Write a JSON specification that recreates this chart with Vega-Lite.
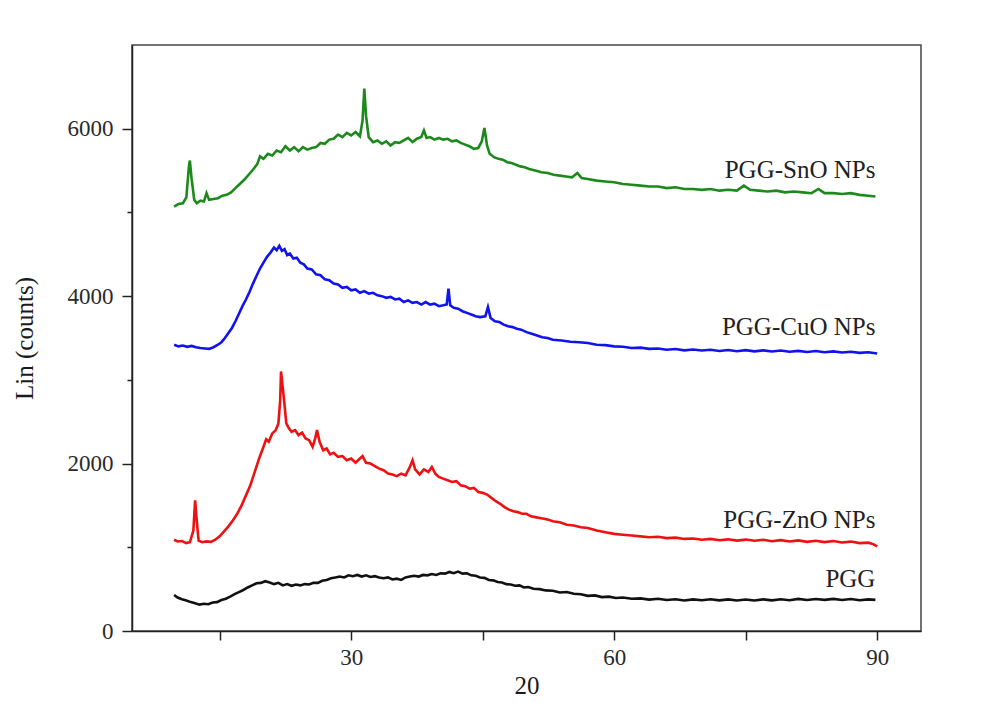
{
  "$schema": "https://vega.github.io/schema/vega-lite/v6.json",
  "width": 789,
  "height": 586,
  "autosize": {"type": "none"},
  "padding": {"left": 132, "top": 45, "right": 77, "bottom": 77},
  "background": "white",
  "config": {
    "font": "Liberation Serif",
    "view": {"stroke": "#444", "strokeWidth": 1.5},
    "axis": {
      "labelFont": "Liberation Serif",
      "titleFont": "Liberation Serif",
      "labelFontSize": 23,
      "titleFontSize": 25,
      "labelColor": "#2a2a2a",
      "titleColor": "#1a1a1a",
      "titleFontWeight": "normal",
      "domainColor": "#222",
      "domainWidth": 1.5,
      "tickColor": "#222",
      "tickWidth": 1.5,
      "grid": false
    }
  },
  "datasets": {
    "xrd": [
      {"s":"PGG","t":9.8,"v":430},{"s":"PGG","t":10.2,"v":400},{"s":"PGG","t":10.7,"v":380},{"s":"PGG","t":11.2,"v":365},{"s":"PGG","t":11.7,"v":345},{"s":"PGG","t":12.2,"v":330},{"s":"PGG","t":12.7,"v":315},{"s":"PGG","t":13.2,"v":325},{"s":"PGG","t":13.7,"v":320},{"s":"PGG","t":14.2,"v":340},{"s":"PGG","t":14.7,"v":345},{"s":"PGG","t":15.2,"v":370},{"s":"PGG","t":15.7,"v":385},{"s":"PGG","t":16.2,"v":410},{"s":"PGG","t":16.7,"v":440},{"s":"PGG","t":17.2,"v":465},{"s":"PGG","t":17.7,"v":490},{"s":"PGG","t":18.2,"v":520},{"s":"PGG","t":18.7,"v":545},{"s":"PGG","t":19.2,"v":570},{"s":"PGG","t":19.7,"v":575},{"s":"PGG","t":20.2,"v":595},{"s":"PGG","t":20.7,"v":580},{"s":"PGG","t":21.2,"v":560},{"s":"PGG","t":21.7,"v":575},{"s":"PGG","t":22.2,"v":545},{"s":"PGG","t":22.7,"v":560},{"s":"PGG","t":23.2,"v":540},{"s":"PGG","t":23.7,"v":555},{"s":"PGG","t":24.2,"v":545},{"s":"PGG","t":24.7,"v":560},{"s":"PGG","t":25.2,"v":555},{"s":"PGG","t":25.7,"v":575},{"s":"PGG","t":26.2,"v":575},{"s":"PGG","t":26.7,"v":600},{"s":"PGG","t":27.2,"v":610},{"s":"PGG","t":27.7,"v":630},{"s":"PGG","t":28.2,"v":640},{"s":"PGG","t":28.7,"v":650},{"s":"PGG","t":29.2,"v":640},{"s":"PGG","t":29.7,"v":665},{"s":"PGG","t":30.2,"v":655},{"s":"PGG","t":30.7,"v":670},{"s":"PGG","t":31.2,"v":650},{"s":"PGG","t":31.7,"v":665},{"s":"PGG","t":32.2,"v":645},{"s":"PGG","t":32.7,"v":655},{"s":"PGG","t":33.2,"v":640},{"s":"PGG","t":33.7,"v":630},{"s":"PGG","t":34.2,"v":640},{"s":"PGG","t":34.7,"v":615},{"s":"PGG","t":35.2,"v":625},{"s":"PGG","t":35.7,"v":610},{"s":"PGG","t":36.2,"v":640},{"s":"PGG","t":36.7,"v":650},{"s":"PGG","t":37.2,"v":660},{"s":"PGG","t":37.7,"v":650},{"s":"PGG","t":38.2,"v":670},{"s":"PGG","t":38.7,"v":665},{"s":"PGG","t":39.2,"v":680},{"s":"PGG","t":39.7,"v":670},{"s":"PGG","t":40.2,"v":690},{"s":"PGG","t":40.7,"v":685},{"s":"PGG","t":41.2,"v":705},{"s":"PGG","t":41.7,"v":690},{"s":"PGG","t":42.2,"v":710},{"s":"PGG","t":42.7,"v":685},{"s":"PGG","t":43.2,"v":690},{"s":"PGG","t":43.7,"v":665},{"s":"PGG","t":44.2,"v":660},{"s":"PGG","t":44.7,"v":640},{"s":"PGG","t":45.2,"v":635},{"s":"PGG","t":45.7,"v":610},{"s":"PGG","t":46.2,"v":605},{"s":"PGG","t":46.7,"v":585},{"s":"PGG","t":47.2,"v":580},{"s":"PGG","t":47.7,"v":560},{"s":"PGG","t":48.2,"v":555},{"s":"PGG","t":48.7,"v":540},{"s":"PGG","t":49.2,"v":545},{"s":"PGG","t":49.7,"v":520},{"s":"PGG","t":50.2,"v":525},{"s":"PGG","t":50.8,"v":505},{"s":"PGG","t":51.5,"v":500},{"s":"PGG","t":52.2,"v":485},{"s":"PGG","t":53,"v":480},{"s":"PGG","t":53.8,"v":460},{"s":"PGG","t":54.6,"v":465},{"s":"PGG","t":55.4,"v":445},{"s":"PGG","t":56.2,"v":440},{"s":"PGG","t":57,"v":420},{"s":"PGG","t":57.8,"v":425},{"s":"PGG","t":58.6,"v":405},{"s":"PGG","t":59.4,"v":410},{"s":"PGG","t":60.2,"v":395},{"s":"PGG","t":61,"v":400},{"s":"PGG","t":62,"v":385},{"s":"PGG","t":63,"v":390},{"s":"PGG","t":64,"v":375},{"s":"PGG","t":65,"v":385},{"s":"PGG","t":66,"v":370},{"s":"PGG","t":67,"v":380},{"s":"PGG","t":68,"v":365},{"s":"PGG","t":69,"v":378},{"s":"PGG","t":70,"v":368},{"s":"PGG","t":71,"v":380},{"s":"PGG","t":72,"v":366},{"s":"PGG","t":73,"v":378},{"s":"PGG","t":74,"v":365},{"s":"PGG","t":75,"v":376},{"s":"PGG","t":76,"v":364},{"s":"PGG","t":77,"v":378},{"s":"PGG","t":78,"v":366},{"s":"PGG","t":79,"v":380},{"s":"PGG","t":80,"v":368},{"s":"PGG","t":81,"v":384},{"s":"PGG","t":82,"v":370},{"s":"PGG","t":83,"v":382},{"s":"PGG","t":84,"v":372},{"s":"PGG","t":85,"v":384},{"s":"PGG","t":86,"v":370},{"s":"PGG","t":87,"v":382},{"s":"PGG","t":88,"v":368},{"s":"PGG","t":89,"v":378},{"s":"PGG","t":89.8,"v":372},

      {"s":"PGG-ZnO NPs","t":9.8,"v":1090},{"s":"PGG-ZnO NPs","t":10.2,"v":1070},{"s":"PGG-ZnO NPs","t":10.7,"v":1075},{"s":"PGG-ZnO NPs","t":11.2,"v":1050},{"s":"PGG-ZnO NPs","t":11.6,"v":1060},{"s":"PGG-ZnO NPs","t":12.0,"v":1200},{"s":"PGG-ZnO NPs","t":12.2,"v":1560},{"s":"PGG-ZnO NPs","t":12.4,"v":1300},{"s":"PGG-ZnO NPs","t":12.6,"v":1080},{"s":"PGG-ZnO NPs","t":13.0,"v":1060},{"s":"PGG-ZnO NPs","t":13.5,"v":1070},{"s":"PGG-ZnO NPs","t":14.0,"v":1065},{"s":"PGG-ZnO NPs","t":14.5,"v":1090},{"s":"PGG-ZnO NPs","t":15.0,"v":1130},{"s":"PGG-ZnO NPs","t":15.5,"v":1190},{"s":"PGG-ZnO NPs","t":16.0,"v":1250},{"s":"PGG-ZnO NPs","t":16.5,"v":1320},{"s":"PGG-ZnO NPs","t":17.0,"v":1400},{"s":"PGG-ZnO NPs","t":17.5,"v":1500},{"s":"PGG-ZnO NPs","t":18.0,"v":1620},{"s":"PGG-ZnO NPs","t":18.5,"v":1740},{"s":"PGG-ZnO NPs","t":19.0,"v":1900},{"s":"PGG-ZnO NPs","t":19.5,"v":2060},{"s":"PGG-ZnO NPs","t":20.0,"v":2200},{"s":"PGG-ZnO NPs","t":20.3,"v":2290},{"s":"PGG-ZnO NPs","t":20.6,"v":2260},{"s":"PGG-ZnO NPs","t":21.0,"v":2360},{"s":"PGG-ZnO NPs","t":21.4,"v":2400},{"s":"PGG-ZnO NPs","t":21.7,"v":2480},{"s":"PGG-ZnO NPs","t":21.9,"v":2750},{"s":"PGG-ZnO NPs","t":22.0,"v":3100},{"s":"PGG-ZnO NPs","t":22.2,"v":2900},{"s":"PGG-ZnO NPs","t":22.4,"v":2700},{"s":"PGG-ZnO NPs","t":22.6,"v":2480},{"s":"PGG-ZnO NPs","t":22.9,"v":2420},{"s":"PGG-ZnO NPs","t":23.2,"v":2380},{"s":"PGG-ZnO NPs","t":23.6,"v":2400},{"s":"PGG-ZnO NPs","t":24.0,"v":2340},{"s":"PGG-ZnO NPs","t":24.4,"v":2370},{"s":"PGG-ZnO NPs","t":24.8,"v":2300},{"s":"PGG-ZnO NPs","t":25.2,"v":2280},{"s":"PGG-ZnO NPs","t":25.6,"v":2200},{"s":"PGG-ZnO NPs","t":25.9,"v":2300},{"s":"PGG-ZnO NPs","t":26.1,"v":2400},{"s":"PGG-ZnO NPs","t":26.4,"v":2260},{"s":"PGG-ZnO NPs","t":26.8,"v":2160},{"s":"PGG-ZnO NPs","t":27.2,"v":2180},{"s":"PGG-ZnO NPs","t":27.6,"v":2110},{"s":"PGG-ZnO NPs","t":28.0,"v":2130},{"s":"PGG-ZnO NPs","t":28.5,"v":2080},{"s":"PGG-ZnO NPs","t":29.0,"v":2090},{"s":"PGG-ZnO NPs","t":29.5,"v":2040},{"s":"PGG-ZnO NPs","t":30.0,"v":2060},{"s":"PGG-ZnO NPs","t":30.5,"v":2010},{"s":"PGG-ZnO NPs","t":31.0,"v":2060},{"s":"PGG-ZnO NPs","t":31.3,"v":2090},{"s":"PGG-ZnO NPs","t":31.7,"v":2010},{"s":"PGG-ZnO NPs","t":32.2,"v":2000},{"s":"PGG-ZnO NPs","t":32.7,"v":1970},{"s":"PGG-ZnO NPs","t":33.2,"v":1940},{"s":"PGG-ZnO NPs","t":33.7,"v":1920},{"s":"PGG-ZnO NPs","t":34.2,"v":1880},{"s":"PGG-ZnO NPs","t":34.7,"v":1870},{"s":"PGG-ZnO NPs","t":35.2,"v":1850},{"s":"PGG-ZnO NPs","t":35.7,"v":1880},{"s":"PGG-ZnO NPs","t":36.2,"v":1860},{"s":"PGG-ZnO NPs","t":36.7,"v":1960},{"s":"PGG-ZnO NPs","t":37.0,"v":2040},{"s":"PGG-ZnO NPs","t":37.3,"v":1930},{"s":"PGG-ZnO NPs","t":37.8,"v":1870},{"s":"PGG-ZnO NPs","t":38.3,"v":1930},{"s":"PGG-ZnO NPs","t":38.8,"v":1900},{"s":"PGG-ZnO NPs","t":39.2,"v":1960},{"s":"PGG-ZnO NPs","t":39.6,"v":1880},{"s":"PGG-ZnO NPs","t":40.0,"v":1840},{"s":"PGG-ZnO NPs","t":40.5,"v":1820},{"s":"PGG-ZnO NPs","t":41.0,"v":1800},{"s":"PGG-ZnO NPs","t":41.5,"v":1780},{"s":"PGG-ZnO NPs","t":42.0,"v":1790},{"s":"PGG-ZnO NPs","t":42.5,"v":1740},{"s":"PGG-ZnO NPs","t":43.0,"v":1730},{"s":"PGG-ZnO NPs","t":43.5,"v":1700},{"s":"PGG-ZnO NPs","t":44.0,"v":1710},{"s":"PGG-ZnO NPs","t":44.5,"v":1660},{"s":"PGG-ZnO NPs","t":45.0,"v":1650},{"s":"PGG-ZnO NPs","t":45.5,"v":1630},{"s":"PGG-ZnO NPs","t":46.0,"v":1590},{"s":"PGG-ZnO NPs","t":46.5,"v":1550},{"s":"PGG-ZnO NPs","t":47.0,"v":1520},{"s":"PGG-ZnO NPs","t":47.5,"v":1480},{"s":"PGG-ZnO NPs","t":48.0,"v":1450},{"s":"PGG-ZnO NPs","t":48.5,"v":1430},{"s":"PGG-ZnO NPs","t":49.0,"v":1420},{"s":"PGG-ZnO NPs","t":49.5,"v":1400},{"s":"PGG-ZnO NPs","t":50.0,"v":1400},{"s":"PGG-ZnO NPs","t":50.5,"v":1370},{"s":"PGG-ZnO NPs","t":51.0,"v":1360},{"s":"PGG-ZnO NPs","t":51.5,"v":1350},{"s":"PGG-ZnO NPs","t":52.0,"v":1340},{"s":"PGG-ZnO NPs","t":52.5,"v":1330},{"s":"PGG-ZnO NPs","t":53.0,"v":1310},{"s":"PGG-ZnO NPs","t":53.8,"v":1300},{"s":"PGG-ZnO NPs","t":54.6,"v":1270},{"s":"PGG-ZnO NPs","t":55.4,"v":1260},{"s":"PGG-ZnO NPs","t":56.2,"v":1240},{"s":"PGG-ZnO NPs","t":57,"v":1230},{"s":"PGG-ZnO NPs","t":58,"v":1200},{"s":"PGG-ZnO NPs","t":59,"v":1180},{"s":"PGG-ZnO NPs","t":60,"v":1160},{"s":"PGG-ZnO NPs","t":61,"v":1150},{"s":"PGG-ZnO NPs","t":62,"v":1140},{"s":"PGG-ZnO NPs","t":63,"v":1130},{"s":"PGG-ZnO NPs","t":64,"v":1120},{"s":"PGG-ZnO NPs","t":65,"v":1125},{"s":"PGG-ZnO NPs","t":66,"v":1110},{"s":"PGG-ZnO NPs","t":67,"v":1115},{"s":"PGG-ZnO NPs","t":68,"v":1100},{"s":"PGG-ZnO NPs","t":69,"v":1105},{"s":"PGG-ZnO NPs","t":70,"v":1090},{"s":"PGG-ZnO NPs","t":71,"v":1100},{"s":"PGG-ZnO NPs","t":72,"v":1085},{"s":"PGG-ZnO NPs","t":73,"v":1095},{"s":"PGG-ZnO NPs","t":74,"v":1080},{"s":"PGG-ZnO NPs","t":75,"v":1092},{"s":"PGG-ZnO NPs","t":76,"v":1078},{"s":"PGG-ZnO NPs","t":77,"v":1090},{"s":"PGG-ZnO NPs","t":78,"v":1072},{"s":"PGG-ZnO NPs","t":79,"v":1085},{"s":"PGG-ZnO NPs","t":80,"v":1070},{"s":"PGG-ZnO NPs","t":81,"v":1082},{"s":"PGG-ZnO NPs","t":82,"v":1065},{"s":"PGG-ZnO NPs","t":83,"v":1078},{"s":"PGG-ZnO NPs","t":84,"v":1062},{"s":"PGG-ZnO NPs","t":85,"v":1075},{"s":"PGG-ZnO NPs","t":86,"v":1058},{"s":"PGG-ZnO NPs","t":87,"v":1068},{"s":"PGG-ZnO NPs","t":88,"v":1050},{"s":"PGG-ZnO NPs","t":89,"v":1055},{"s":"PGG-ZnO NPs","t":89.6,"v":1035},{"s":"PGG-ZnO NPs","t":90,"v":1010},

      {"s":"PGG-CuO NPs","t":9.8,"v":3420},{"s":"PGG-CuO NPs","t":10.3,"v":3400},{"s":"PGG-CuO NPs","t":10.8,"v":3410},{"s":"PGG-CuO NPs","t":11.3,"v":3395},{"s":"PGG-CuO NPs","t":11.8,"v":3405},{"s":"PGG-CuO NPs","t":12.3,"v":3390},{"s":"PGG-CuO NPs","t":12.8,"v":3380},{"s":"PGG-CuO NPs","t":13.3,"v":3375},{"s":"PGG-CuO NPs","t":13.8,"v":3370},{"s":"PGG-CuO NPs","t":14.3,"v":3390},{"s":"PGG-CuO NPs","t":14.8,"v":3420},{"s":"PGG-CuO NPs","t":15.2,"v":3450},{"s":"PGG-CuO NPs","t":15.6,"v":3500},{"s":"PGG-CuO NPs","t":16.0,"v":3560},{"s":"PGG-CuO NPs","t":16.4,"v":3620},{"s":"PGG-CuO NPs","t":16.8,"v":3700},{"s":"PGG-CuO NPs","t":17.2,"v":3790},{"s":"PGG-CuO NPs","t":17.6,"v":3880},{"s":"PGG-CuO NPs","t":18.0,"v":3960},{"s":"PGG-CuO NPs","t":18.4,"v":4050},{"s":"PGG-CuO NPs","t":18.8,"v":4150},{"s":"PGG-CuO NPs","t":19.2,"v":4240},{"s":"PGG-CuO NPs","t":19.6,"v":4330},{"s":"PGG-CuO NPs","t":20.0,"v":4400},{"s":"PGG-CuO NPs","t":20.4,"v":4470},{"s":"PGG-CuO NPs","t":20.8,"v":4520},{"s":"PGG-CuO NPs","t":21.2,"v":4580},{"s":"PGG-CuO NPs","t":21.5,"v":4550},{"s":"PGG-CuO NPs","t":21.8,"v":4600},{"s":"PGG-CuO NPs","t":22.1,"v":4540},{"s":"PGG-CuO NPs","t":22.4,"v":4560},{"s":"PGG-CuO NPs","t":22.7,"v":4490},{"s":"PGG-CuO NPs","t":23.0,"v":4510},{"s":"PGG-CuO NPs","t":23.4,"v":4450},{"s":"PGG-CuO NPs","t":23.8,"v":4460},{"s":"PGG-CuO NPs","t":24.2,"v":4400},{"s":"PGG-CuO NPs","t":24.6,"v":4380},{"s":"PGG-CuO NPs","t":25.0,"v":4330},{"s":"PGG-CuO NPs","t":25.5,"v":4320},{"s":"PGG-CuO NPs","t":26.0,"v":4260},{"s":"PGG-CuO NPs","t":26.5,"v":4250},{"s":"PGG-CuO NPs","t":27.0,"v":4200},{"s":"PGG-CuO NPs","t":27.5,"v":4190},{"s":"PGG-CuO NPs","t":28.0,"v":4150},{"s":"PGG-CuO NPs","t":28.5,"v":4140},{"s":"PGG-CuO NPs","t":29.0,"v":4100},{"s":"PGG-CuO NPs","t":29.5,"v":4110},{"s":"PGG-CuO NPs","t":30.0,"v":4070},{"s":"PGG-CuO NPs","t":30.5,"v":4080},{"s":"PGG-CuO NPs","t":31.0,"v":4040},{"s":"PGG-CuO NPs","t":31.5,"v":4060},{"s":"PGG-CuO NPs","t":32.0,"v":4030},{"s":"PGG-CuO NPs","t":32.5,"v":4040},{"s":"PGG-CuO NPs","t":33.0,"v":4010},{"s":"PGG-CuO NPs","t":33.5,"v":4000},{"s":"PGG-CuO NPs","t":34.0,"v":3980},{"s":"PGG-CuO NPs","t":34.5,"v":3990},{"s":"PGG-CuO NPs","t":35.0,"v":3960},{"s":"PGG-CuO NPs","t":35.5,"v":3970},{"s":"PGG-CuO NPs","t":36.0,"v":3930},{"s":"PGG-CuO NPs","t":36.5,"v":3950},{"s":"PGG-CuO NPs","t":37.0,"v":3920},{"s":"PGG-CuO NPs","t":37.5,"v":3930},{"s":"PGG-CuO NPs","t":38.0,"v":3900},{"s":"PGG-CuO NPs","t":38.5,"v":3930},{"s":"PGG-CuO NPs","t":39.0,"v":3900},{"s":"PGG-CuO NPs","t":39.5,"v":3910},{"s":"PGG-CuO NPs","t":40.0,"v":3880},{"s":"PGG-CuO NPs","t":40.5,"v":3890},{"s":"PGG-CuO NPs","t":40.9,"v":3900},{"s":"PGG-CuO NPs","t":41.1,"v":4090},{"s":"PGG-CuO NPs","t":41.3,"v":3890},{"s":"PGG-CuO NPs","t":41.7,"v":3860},{"s":"PGG-CuO NPs","t":42.2,"v":3850},{"s":"PGG-CuO NPs","t":42.7,"v":3820},{"s":"PGG-CuO NPs","t":43.2,"v":3800},{"s":"PGG-CuO NPs","t":43.7,"v":3780},{"s":"PGG-CuO NPs","t":44.2,"v":3760},{"s":"PGG-CuO NPs","t":44.7,"v":3750},{"s":"PGG-CuO NPs","t":45.3,"v":3760},{"s":"PGG-CuO NPs","t":45.6,"v":3870},{"s":"PGG-CuO NPs","t":45.9,"v":3740},{"s":"PGG-CuO NPs","t":46.4,"v":3700},{"s":"PGG-CuO NPs","t":46.9,"v":3690},{"s":"PGG-CuO NPs","t":47.4,"v":3660},{"s":"PGG-CuO NPs","t":47.9,"v":3640},{"s":"PGG-CuO NPs","t":48.4,"v":3630},{"s":"PGG-CuO NPs","t":48.9,"v":3610},{"s":"PGG-CuO NPs","t":49.4,"v":3600},{"s":"PGG-CuO NPs","t":50.0,"v":3570},{"s":"PGG-CuO NPs","t":50.6,"v":3550},{"s":"PGG-CuO NPs","t":51.2,"v":3530},{"s":"PGG-CuO NPs","t":51.8,"v":3510},{"s":"PGG-CuO NPs","t":52.4,"v":3500},{"s":"PGG-CuO NPs","t":53.0,"v":3480},{"s":"PGG-CuO NPs","t":54,"v":3470},{"s":"PGG-CuO NPs","t":55,"v":3455},{"s":"PGG-CuO NPs","t":56,"v":3450},{"s":"PGG-CuO NPs","t":57,"v":3440},{"s":"PGG-CuO NPs","t":58,"v":3420},{"s":"PGG-CuO NPs","t":59,"v":3415},{"s":"PGG-CuO NPs","t":60,"v":3400},{"s":"PGG-CuO NPs","t":61,"v":3395},{"s":"PGG-CuO NPs","t":62,"v":3380},{"s":"PGG-CuO NPs","t":63,"v":3385},{"s":"PGG-CuO NPs","t":64,"v":3370},{"s":"PGG-CuO NPs","t":65,"v":3375},{"s":"PGG-CuO NPs","t":66,"v":3360},{"s":"PGG-CuO NPs","t":67,"v":3368},{"s":"PGG-CuO NPs","t":68,"v":3352},{"s":"PGG-CuO NPs","t":69,"v":3362},{"s":"PGG-CuO NPs","t":70,"v":3350},{"s":"PGG-CuO NPs","t":71,"v":3360},{"s":"PGG-CuO NPs","t":72,"v":3345},{"s":"PGG-CuO NPs","t":73,"v":3356},{"s":"PGG-CuO NPs","t":74,"v":3342},{"s":"PGG-CuO NPs","t":75,"v":3355},{"s":"PGG-CuO NPs","t":76,"v":3340},{"s":"PGG-CuO NPs","t":77,"v":3352},{"s":"PGG-CuO NPs","t":78,"v":3338},{"s":"PGG-CuO NPs","t":79,"v":3350},{"s":"PGG-CuO NPs","t":80,"v":3336},{"s":"PGG-CuO NPs","t":81,"v":3346},{"s":"PGG-CuO NPs","t":82,"v":3332},{"s":"PGG-CuO NPs","t":83,"v":3344},{"s":"PGG-CuO NPs","t":84,"v":3330},{"s":"PGG-CuO NPs","t":85,"v":3340},{"s":"PGG-CuO NPs","t":86,"v":3326},{"s":"PGG-CuO NPs","t":87,"v":3336},{"s":"PGG-CuO NPs","t":88,"v":3322},{"s":"PGG-CuO NPs","t":89,"v":3330},{"s":"PGG-CuO NPs","t":90,"v":3315},

      {"s":"PGG-SnO NPs","t":9.8,"v":5070},{"s":"PGG-SnO NPs","t":10.3,"v":5100},{"s":"PGG-SnO NPs","t":10.8,"v":5110},{"s":"PGG-SnO NPs","t":11.2,"v":5180},{"s":"PGG-SnO NPs","t":11.5,"v":5560},{"s":"PGG-SnO NPs","t":11.6,"v":5620},{"s":"PGG-SnO NPs","t":11.8,"v":5400},{"s":"PGG-SnO NPs","t":12.1,"v":5150},{"s":"PGG-SnO NPs","t":12.4,"v":5110},{"s":"PGG-SnO NPs","t":12.8,"v":5140},{"s":"PGG-SnO NPs","t":13.2,"v":5130},{"s":"PGG-SnO NPs","t":13.5,"v":5230},{"s":"PGG-SnO NPs","t":13.8,"v":5150},{"s":"PGG-SnO NPs","t":14.3,"v":5160},{"s":"PGG-SnO NPs","t":14.8,"v":5170},{"s":"PGG-SnO NPs","t":15.3,"v":5200},{"s":"PGG-SnO NPs","t":15.8,"v":5210},{"s":"PGG-SnO NPs","t":16.3,"v":5240},{"s":"PGG-SnO NPs","t":16.8,"v":5290},{"s":"PGG-SnO NPs","t":17.3,"v":5340},{"s":"PGG-SnO NPs","t":17.8,"v":5390},{"s":"PGG-SnO NPs","t":18.3,"v":5450},{"s":"PGG-SnO NPs","t":18.8,"v":5510},{"s":"PGG-SnO NPs","t":19.3,"v":5580},{"s":"PGG-SnO NPs","t":19.6,"v":5670},{"s":"PGG-SnO NPs","t":20.0,"v":5640},{"s":"PGG-SnO NPs","t":20.5,"v":5700},{"s":"PGG-SnO NPs","t":21.0,"v":5680},{"s":"PGG-SnO NPs","t":21.5,"v":5740},{"s":"PGG-SnO NPs","t":22.0,"v":5720},{"s":"PGG-SnO NPs","t":22.5,"v":5790},{"s":"PGG-SnO NPs","t":23.0,"v":5740},{"s":"PGG-SnO NPs","t":23.5,"v":5780},{"s":"PGG-SnO NPs","t":24.0,"v":5730},{"s":"PGG-SnO NPs","t":24.5,"v":5780},{"s":"PGG-SnO NPs","t":25.0,"v":5750},{"s":"PGG-SnO NPs","t":25.5,"v":5770},{"s":"PGG-SnO NPs","t":26.0,"v":5780},{"s":"PGG-SnO NPs","t":26.5,"v":5830},{"s":"PGG-SnO NPs","t":27.0,"v":5820},{"s":"PGG-SnO NPs","t":27.5,"v":5870},{"s":"PGG-SnO NPs","t":28.0,"v":5880},{"s":"PGG-SnO NPs","t":28.5,"v":5930},{"s":"PGG-SnO NPs","t":29.0,"v":5900},{"s":"PGG-SnO NPs","t":29.5,"v":5950},{"s":"PGG-SnO NPs","t":30.0,"v":5920},{"s":"PGG-SnO NPs","t":30.5,"v":5960},{"s":"PGG-SnO NPs","t":31.0,"v":5910},{"s":"PGG-SnO NPs","t":31.3,"v":6100},{"s":"PGG-SnO NPs","t":31.5,"v":6480},{"s":"PGG-SnO NPs","t":31.7,"v":6150},{"s":"PGG-SnO NPs","t":32.0,"v":5900},{"s":"PGG-SnO NPs","t":32.5,"v":5840},{"s":"PGG-SnO NPs","t":33.0,"v":5860},{"s":"PGG-SnO NPs","t":33.5,"v":5820},{"s":"PGG-SnO NPs","t":34.0,"v":5850},{"s":"PGG-SnO NPs","t":34.5,"v":5800},{"s":"PGG-SnO NPs","t":35.0,"v":5840},{"s":"PGG-SnO NPs","t":35.5,"v":5830},{"s":"PGG-SnO NPs","t":36.0,"v":5860},{"s":"PGG-SnO NPs","t":36.5,"v":5890},{"s":"PGG-SnO NPs","t":37.0,"v":5840},{"s":"PGG-SnO NPs","t":37.5,"v":5880},{"s":"PGG-SnO NPs","t":38.0,"v":5900},{"s":"PGG-SnO NPs","t":38.3,"v":5980},{"s":"PGG-SnO NPs","t":38.6,"v":5890},{"s":"PGG-SnO NPs","t":39.0,"v":5900},{"s":"PGG-SnO NPs","t":39.5,"v":5870},{"s":"PGG-SnO NPs","t":40.0,"v":5890},{"s":"PGG-SnO NPs","t":40.5,"v":5870},{"s":"PGG-SnO NPs","t":41.0,"v":5880},{"s":"PGG-SnO NPs","t":41.5,"v":5850},{"s":"PGG-SnO NPs","t":42.0,"v":5860},{"s":"PGG-SnO NPs","t":42.5,"v":5830},{"s":"PGG-SnO NPs","t":43.0,"v":5810},{"s":"PGG-SnO NPs","t":43.5,"v":5790},{"s":"PGG-SnO NPs","t":44.0,"v":5760},{"s":"PGG-SnO NPs","t":44.5,"v":5770},{"s":"PGG-SnO NPs","t":44.9,"v":5850},{"s":"PGG-SnO NPs","t":45.2,"v":6010},{"s":"PGG-SnO NPs","t":45.5,"v":5800},{"s":"PGG-SnO NPs","t":45.8,"v":5700},{"s":"PGG-SnO NPs","t":46.3,"v":5660},{"s":"PGG-SnO NPs","t":46.8,"v":5640},{"s":"PGG-SnO NPs","t":47.3,"v":5630},{"s":"PGG-SnO NPs","t":47.8,"v":5600},{"s":"PGG-SnO NPs","t":48.3,"v":5590},{"s":"PGG-SnO NPs","t":48.8,"v":5570},{"s":"PGG-SnO NPs","t":49.3,"v":5550},{"s":"PGG-SnO NPs","t":49.8,"v":5540},{"s":"PGG-SnO NPs","t":50.3,"v":5520},{"s":"PGG-SnO NPs","t":51.0,"v":5500},{"s":"PGG-SnO NPs","t":51.7,"v":5480},{"s":"PGG-SnO NPs","t":52.4,"v":5470},{"s":"PGG-SnO NPs","t":53.1,"v":5450},{"s":"PGG-SnO NPs","t":53.8,"v":5440},{"s":"PGG-SnO NPs","t":54.5,"v":5430},{"s":"PGG-SnO NPs","t":55.2,"v":5420},{"s":"PGG-SnO NPs","t":55.8,"v":5470},{"s":"PGG-SnO NPs","t":56.3,"v":5410},{"s":"PGG-SnO NPs","t":57,"v":5400},{"s":"PGG-SnO NPs","t":58,"v":5380},{"s":"PGG-SnO NPs","t":59,"v":5370},{"s":"PGG-SnO NPs","t":60,"v":5360},{"s":"PGG-SnO NPs","t":61,"v":5340},{"s":"PGG-SnO NPs","t":62,"v":5330},{"s":"PGG-SnO NPs","t":63,"v":5320},{"s":"PGG-SnO NPs","t":64,"v":5310},{"s":"PGG-SnO NPs","t":65,"v":5310},{"s":"PGG-SnO NPs","t":66,"v":5290},{"s":"PGG-SnO NPs","t":67,"v":5300},{"s":"PGG-SnO NPs","t":68,"v":5280},{"s":"PGG-SnO NPs","t":69,"v":5280},{"s":"PGG-SnO NPs","t":70,"v":5270},{"s":"PGG-SnO NPs","t":71,"v":5280},{"s":"PGG-SnO NPs","t":72,"v":5260},{"s":"PGG-SnO NPs","t":73,"v":5270},{"s":"PGG-SnO NPs","t":74,"v":5260},{"s":"PGG-SnO NPs","t":74.8,"v":5320},{"s":"PGG-SnO NPs","t":75.5,"v":5270},{"s":"PGG-SnO NPs","t":76.5,"v":5260},{"s":"PGG-SnO NPs","t":77.5,"v":5250},{"s":"PGG-SnO NPs","t":78.5,"v":5260},{"s":"PGG-SnO NPs","t":79.5,"v":5240},{"s":"PGG-SnO NPs","t":80.5,"v":5250},{"s":"PGG-SnO NPs","t":81.5,"v":5240},{"s":"PGG-SnO NPs","t":82.5,"v":5230},{"s":"PGG-SnO NPs","t":83.3,"v":5280},{"s":"PGG-SnO NPs","t":84.0,"v":5230},{"s":"PGG-SnO NPs","t":85,"v":5230},{"s":"PGG-SnO NPs","t":86,"v":5220},{"s":"PGG-SnO NPs","t":87,"v":5230},{"s":"PGG-SnO NPs","t":88,"v":5210},{"s":"PGG-SnO NPs","t":89,"v":5200},{"s":"PGG-SnO NPs","t":89.8,"v":5190}
    ],
    "labels": [
      {"s":"PGG-SnO NPs","t":89.8,"v":5510},
      {"s":"PGG-CuO NPs","t":89.8,"v":3630},
      {"s":"PGG-ZnO NPs","t":89.8,"v":1330},
      {"s":"PGG","t":89.8,"v":625}
    ]
  },
  "layer": [
    {
      "data": {"name": "xrd"},
      "mark": {"type": "line", "strokeWidth": 2.6, "clip": true},
      "encoding": {
        "x": {
          "field": "t", "type": "quantitative",
          "scale": {"domain": [5, 95], "nice": false, "zero": false},
          "axis": {
            "title": "20",
            "values": [15, 30, 45, 60, 75, 90],
            "labelExpr": "datum.value % 30 == 0 ? datum.label : ''",
            "tickSize": 9,
            "labelPadding": 6,
            "titlePadding": 4,
            "labelFlush": false
          }
        },
        "y": {
          "field": "v", "type": "quantitative",
          "scale": {"domain": [0, 7000], "nice": false},
          "axis": {
            "title": "Lin (counts)",
            "values": [0, 1000, 2000, 3000, 4000, 5000, 6000],
            "format": "d",
            "labelExpr": "datum.value % 2000 == 0 ? datum.label : ''",
            "tickSize": {"condition": {"test": "datum.value % 2000 == 0", "value": 10}, "value": 5},
            "labelPadding": 9,
            "titlePadding": 30,
            "labelFlush": false
          }
        },
        "color": {
          "field": "s", "type": "nominal",
          "scale": {
            "domain": ["PGG", "PGG-ZnO NPs", "PGG-CuO NPs", "PGG-SnO NPs"],
            "range": ["#111111", "#ee1111", "#1212ee", "#1b8a1b"]
          },
          "legend": null
        },
        "order": {"field": "t", "type": "quantitative"}
      }
    },
    {
      "data": {"name": "labels"},
      "mark": {"type": "text", "align": "right", "baseline": "middle", "font": "Liberation Serif", "fontSize": 25, "color": "#222"},
      "encoding": {
        "x": {"field": "t", "type": "quantitative"},
        "y": {"field": "v", "type": "quantitative"},
        "text": {"field": "s"}
      }
    }
  ]
}
